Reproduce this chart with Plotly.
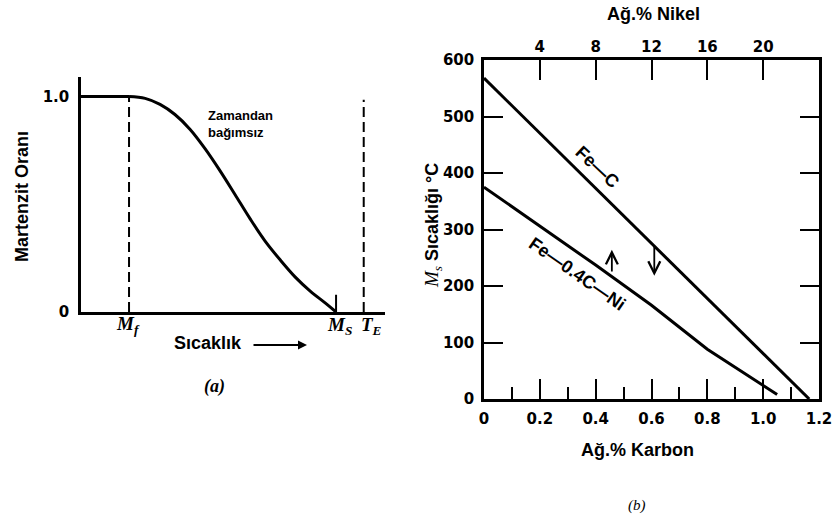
import plotly.graph_objects as go

# ---------------- data ----------------
# panel (a): martensite fraction vs temperature (arbitrary temperature units 0-100)
flat_x = [0, 15.8]
flat_y = [1.0, 1.0]
curve_x = [15.8, 21.1, 26.0, 30.9, 35.9, 40.8, 45.7, 50.7, 55.6, 60.5, 65.5, 70.4, 75.3, 80.3, 83.9]
curve_y = [1.0, 0.991, 0.963, 0.916, 0.847, 0.758, 0.656, 0.544, 0.433, 0.330, 0.242, 0.163, 0.098, 0.042, 0.0]
T_MF = 15.8
T_MS = 83.9
T_E = 93.0

# panel (b): Ms temperature vs wt% carbon
fec_x = [0.0, 1.165]
fec_y = [568, 0]
feni_x = [0.0, 0.2, 0.4, 0.6, 0.8, 1.05]
feni_y = [375, 306, 237, 166, 88, 8]
carbon_ticks = [0, 0.2, 0.4, 0.6, 0.8, 1.0, 1.2]
carbon_labels = ["0", "0.2", "0.4", "0.6", "0.8", "1.0", "1.2"]
ms_ticks = [0, 100, 200, 300, 400, 500, 600]
nickel_ticks = [4, 8, 12, 16, 20]

W, H = 835, 523
def px(x): return x / W
def py(y): return 1 - y / H

SANS = "Liberation Sans"
SERIF = "Liberation Serif"
TICKF = dict(family="DejaVu Sans", size=15, color="black", weight="bold")

fig = go.Figure()
blk = dict(color="black", width=3)

# panel (a)
fig.add_trace(go.Scatter(x=flat_x, y=flat_y, mode="lines", line=blk, xaxis="x", yaxis="y"))
fig.add_trace(go.Scatter(x=curve_x, y=curve_y, mode="lines", line=dict(color="black", width=3, shape="spline", smoothing=1.0), xaxis="x", yaxis="y"))
fig.add_trace(go.Scatter(x=[T_MF, T_MF], y=[0, 1.0], mode="lines", line=dict(color="black", width=2, dash="10px,5px"), xaxis="x", yaxis="y"))
fig.add_trace(go.Scatter(x=[T_E, T_E], y=[0, 0.985], mode="lines", line=dict(color="black", width=2, dash="10px,5px"), xaxis="x", yaxis="y"))
fig.add_trace(go.Scatter(x=[T_MS, T_MS], y=[0, 0.08], mode="lines", line=dict(color="black", width=2), xaxis="x", yaxis="y"))

# panel (b)
fig.add_trace(go.Scatter(x=fec_x, y=fec_y, mode="lines", line=blk, xaxis="x2", yaxis="y2"))
fig.add_trace(go.Scatter(x=feni_x, y=feni_y, mode="lines", line=blk, xaxis="x2", yaxis="y2"))
# invisible trace for the nickel axis
fig.add_trace(go.Scatter(x=[0, 24], y=[0, 0], mode="lines", line=dict(width=0), opacity=0, xaxis="x3", yaxis="y2", hoverinfo="skip"))

fig.update_layout(
    template="none",
    width=W, height=H, margin=dict(l=0, r=0, t=0, b=0, pad=0), autosize=False,
    paper_bgcolor="white", plot_bgcolor="white", showlegend=False,
    xaxis=dict(domain=[px(81), px(385)], range=[0, 100], anchor="y", automargin=False,
               showline=True, linewidth=2.5, linecolor="black", showgrid=False, zeroline=False,
               showticklabels=False, ticks=""),
    yaxis=dict(domain=[py(312), py(77)], range=[0, 1.09], anchor="x", automargin=False,
               showline=True, linewidth=2.5, linecolor="black", showgrid=False, zeroline=False,
               tickvals=[0, 1], ticktext=["0", "1.0"], ticks="", tickfont=TICKF, ticklabelstandoff=6),
    xaxis2=dict(domain=[px(484), px(819)], range=[0, 1.2], anchor="y2", automargin=False,
                showline=True, mirror=True, linewidth=2.5, linecolor="black", showgrid=False, zeroline=False,
                tickvals=carbon_ticks, ticktext=carbon_labels, ticks="inside", ticklen=20, tickwidth=2,
                tickcolor="black", tickfont=TICKF, ticklabelstandoff=4,
                minor=dict(dtick=0.1, tick0=0, ticks="inside", ticklen=12, tickwidth=2, tickcolor="black", showgrid=False)),
    yaxis2=dict(domain=[py(399), py(60)], range=[0, 600], anchor="x2", automargin=False,
                showline=True, mirror="ticks", linewidth=2.5, linecolor="black", showgrid=False, zeroline=False,
                tickvals=ms_ticks, ticks="inside", ticklen=19, tickwidth=2, tickcolor="black",
                tickfont=TICKF, ticklabelstandoff=4),
    xaxis3=dict(overlaying="x2", side="top", range=[0, 24], anchor="y2", automargin=False,
                showline=False, showgrid=False, zeroline=False,
                tickvals=nickel_ticks, ticks="inside", ticklen=20, tickwidth=2, tickcolor="black",
                tickfont=TICKF, ticklabelstandoff=4),
)

ann = []
def txt(x, y, t, size=18, family=SANS, bold=True, italic=False, angle=0, **kw):
    f = dict(family=family, size=size, color="black")
    f["weight"] = "bold" if bold else "normal"
    if italic:
        f["style"] = "italic"
    d = dict(x=px(x), y=py(y), xref="paper", yref="paper", text=t, showarrow=False,
             font=f, textangle=angle, xanchor="center", yanchor="middle")
    d.update(kw)
    ann.append(d)

# panel (a) texts
txt(22, 197, "Martenzit Oranı", size=18, angle=-90)
txt(206, 124, "Zamandan<br>bağımsız", size=13, xanchor="left", align="left")
txt(128, 325, "M<sub>f</sub>", size=19, family=SERIF, italic=True)
txt(339, 326, "M<sub>S</sub>", size=19, family=SERIF, italic=True)
txt(371, 326, "T<sub>E</sub>", size=19, family=SERIF, italic=True)
txt(208, 343, "Sıcaklık", size=18)
txt(215, 386, "(a)", size=18, family=SERIF, italic=True)
ann.append(dict(x=px(307), y=py(345), xref="paper", yref="paper", ax=-55, ay=0,
                text="", showarrow=True, arrowhead=2, arrowsize=1, arrowwidth=1.8, arrowcolor="black"))

# panel (b) texts
txt(653, 14, "Ağ.% Nikel", size=18)
txt(637, 450, "Ağ.% Karbon", size=18)
txt(433, 226, "<span style='font-family:Liberation Serif;font-style:italic;font-weight:normal;font-size:19px'>M<sub>s</sub></span> Sıcaklığı °C", size=18, angle=-90)
txt(637, 505, "(b)", size=15, family=SERIF, bold=False, italic=True)

# line labels in data coordinates
ann.append(dict(x=0.405, y=410, xref="x2", yref="y2", text="Fe—C", showarrow=False, textangle=43,
                font=dict(family=SANS, size=18, color="black", weight="bold")))
ann.append(dict(x=0.335, y=222, xref="x2", yref="y2", text="Fe—0.4C—Ni", showarrow=False, textangle=35,
                font=dict(family=SANS, size=18, color="black", weight="bold")))
# reading arrows
ann.append(dict(x=0.61, y=218, ax=0.61, ay=272, xref="x2", yref="y2", axref="x2", ayref="y2",
                text="", showarrow=True, arrowhead=5, arrowsize=1.3, arrowwidth=1.8, arrowcolor="black"))
ann.append(dict(x=0.458, y=264, ax=0.458, ay=223, xref="x2", yref="y2", axref="x2", ayref="y2",
                text="", showarrow=True, arrowhead=5, arrowsize=1.3, arrowwidth=1.8, arrowcolor="black"))

fig.update_layout(annotations=ann)
fig.write_html("out.html")
